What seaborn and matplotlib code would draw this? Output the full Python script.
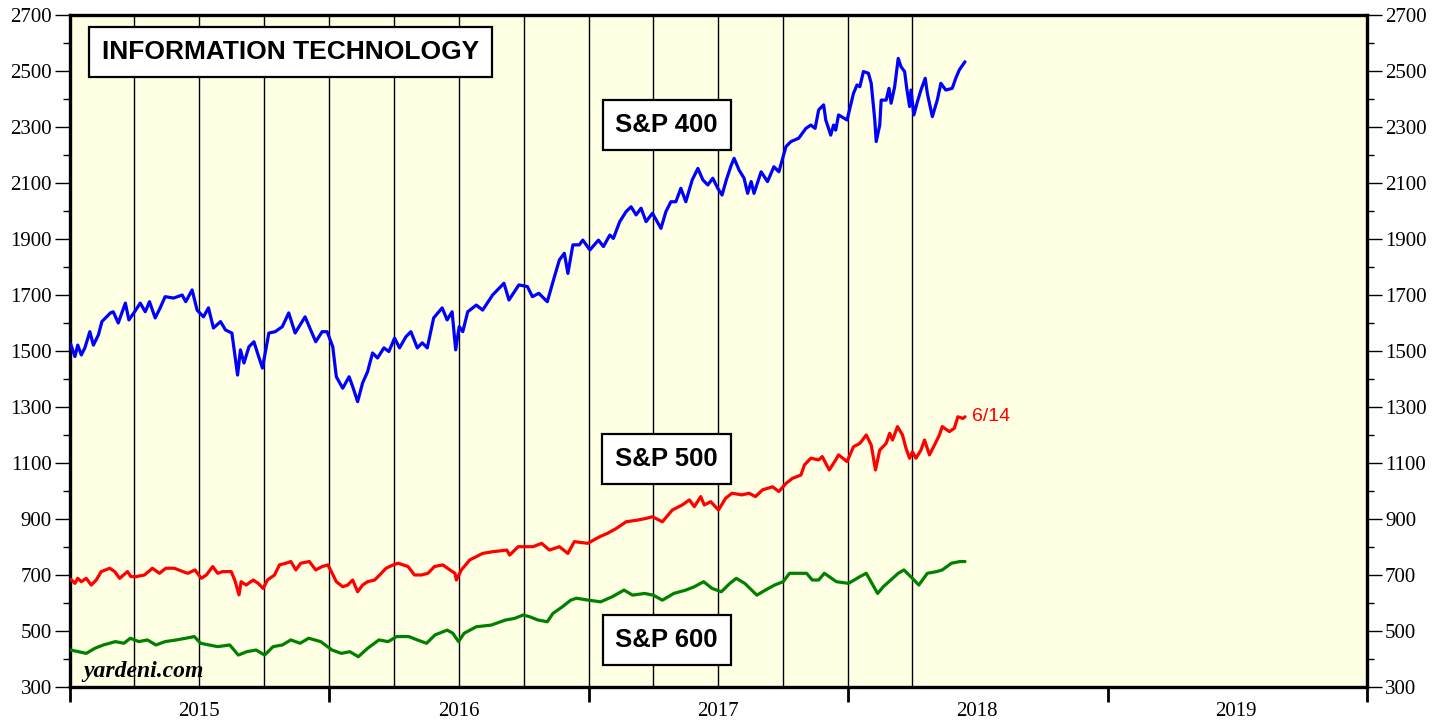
import pandas as pd
import matplotlib
matplotlib.use("Agg")
import matplotlib.pyplot as plt
import matplotlib.dates as mdates
import matplotlib.ticker as mticker
import seaborn as sns

# ---- data (weekly-ish samples) ----
sp400_dates = [
    "2015-01-02", "2015-01-08", "2015-01-12", "2015-01-17", "2015-01-22", "2015-01-29", "2015-02-03",
    "2015-02-10", "2015-02-15", "2015-02-27", "2015-03-03", "2015-03-10", "2015-03-20", "2015-03-25",
    "2015-04-01", "2015-04-10", "2015-04-17", "2015-04-23", "2015-05-01", "2015-05-08", "2015-05-15",
    "2015-05-27", "2015-06-08", "2015-06-13", "2015-06-22", "2015-06-29", "2015-07-08", "2015-07-15",
    "2015-07-22", "2015-08-01", "2015-08-08", "2015-08-17", "2015-08-25", "2015-08-29", "2015-09-03",
    "2015-09-10", "2015-09-17", "2015-09-22", "2015-09-29", "2015-10-08", "2015-10-17", "2015-10-27",
    "2015-11-05", "2015-11-14", "2015-11-28", "2015-12-13", "2015-12-22", "2015-12-29", "2016-01-06",
    "2016-01-11", "2016-01-20", "2016-01-29", "2016-02-03", "2016-02-10", "2016-02-17", "2016-02-24",
    "2016-03-02", "2016-03-09", "2016-03-18", "2016-03-25", "2016-04-02", "2016-04-09", "2016-04-18",
    "2016-04-25", "2016-05-04", "2016-05-11", "2016-05-18", "2016-05-27", "2016-06-08", "2016-06-15",
    "2016-06-22", "2016-06-27", "2016-07-02", "2016-07-07", "2016-07-14", "2016-07-26", "2016-08-04",
    "2016-08-18", "2016-09-03", "2016-09-10", "2016-09-24", "2016-10-06", "2016-10-13", "2016-10-22",
    "2016-11-03", "2016-11-13", "2016-11-20", "2016-11-27", "2016-12-02", "2016-12-09", "2016-12-18",
    "2016-12-23", "2017-01-02", "2017-01-14", "2017-01-21", "2017-01-30", "2017-02-04", "2017-02-13",
    "2017-02-22", "2017-03-01", "2017-03-08", "2017-03-15", "2017-03-22", "2017-03-31", "2017-04-12",
    "2017-04-19", "2017-04-26", "2017-05-03", "2017-05-10", "2017-05-17", "2017-05-26", "2017-06-03",
    "2017-06-10", "2017-06-17", "2017-06-24", "2017-07-01", "2017-07-07", "2017-07-13", "2017-07-20",
    "2017-07-24", "2017-07-31", "2017-08-07", "2017-08-12", "2017-08-17", "2017-08-21", "2017-08-31",
    "2017-09-09", "2017-09-18", "2017-09-25", "2017-10-05", "2017-10-12", "2017-10-23", "2017-11-02",
    "2017-11-09", "2017-11-15", "2017-11-20", "2017-11-27", "2017-11-30", "2017-12-07", "2017-12-11",
    "2017-12-14", "2017-12-18", "2017-12-30", "2018-01-08", "2018-01-13", "2018-01-17", "2018-01-22",
    "2018-01-29", "2018-02-02", "2018-02-07", "2018-02-09", "2018-02-14", "2018-02-16", "2018-02-23",
    "2018-02-27", "2018-03-02", "2018-03-07", "2018-03-12", "2018-03-16", "2018-03-21", "2018-03-24",
    "2018-03-28", "2018-03-30", "2018-04-03", "2018-04-08", "2018-04-13", "2018-04-19", "2018-04-22",
    "2018-04-29", "2018-05-06", "2018-05-11", "2018-05-18", "2018-05-27", "2018-06-01", "2018-06-06",
    "2018-06-14",
]
sp400_vals = [
    1525, 1480, 1521, 1486, 1511, 1569, 1521,
    1557, 1605, 1636, 1640, 1600, 1671, 1611,
    1636, 1671, 1640, 1676, 1618, 1654, 1694,
    1689, 1700, 1676, 1718, 1646, 1622, 1654,
    1582, 1605, 1575, 1564, 1414, 1504, 1457,
    1515, 1533, 1493, 1439, 1564, 1569, 1587,
    1636, 1564, 1622, 1533, 1569, 1569, 1515,
    1408, 1367, 1408, 1373, 1319, 1386, 1426,
    1493, 1475, 1511, 1498, 1546, 1511, 1551,
    1569, 1511, 1529, 1511, 1618, 1654, 1611,
    1640, 1504, 1587, 1569, 1640, 1664, 1646,
    1700, 1742, 1682, 1736, 1730, 1694, 1706,
    1676, 1765, 1825, 1849, 1777, 1879, 1879,
    1896, 1861, 1896, 1873, 1914, 1902, 1962,
    1998, 2015, 1986, 2010, 1962, 1992, 1938,
    1998, 2033, 2033, 2081, 2033, 2111, 2152,
    2111, 2093, 2117, 2081, 2057, 2111, 2164,
    2188, 2146, 2117, 2063, 2105, 2063, 2140,
    2105, 2158, 2140, 2230, 2248, 2260, 2295,
    2307, 2295, 2361, 2379, 2325, 2271, 2307,
    2289, 2343, 2325, 2420, 2450, 2444, 2498,
    2492, 2456, 2325, 2248, 2307, 2396, 2396,
    2438, 2385, 2444, 2545, 2515, 2498, 2438,
    2373, 2432, 2343, 2390, 2432, 2474, 2420,
    2337, 2396, 2456, 2432, 2438, 2474, 2504,
    2533,
]

sp500_dates = [
    "2015-01-02", "2015-01-08", "2015-01-12", "2015-01-17", "2015-01-24", "2015-01-31", "2015-02-07",
    "2015-02-14", "2015-02-26", "2015-03-05", "2015-03-12", "2015-03-23", "2015-03-28", "2015-04-04",
    "2015-04-16", "2015-04-27", "2015-05-07", "2015-05-16", "2015-05-28", "2015-06-09", "2015-06-16",
    "2015-06-26", "2015-07-05", "2015-07-12", "2015-07-21", "2015-07-28", "2015-08-04", "2015-08-16",
    "2015-08-21", "2015-08-27", "2015-08-30", "2015-09-06", "2015-09-16", "2015-09-23", "2015-09-30",
    "2015-10-06", "2015-10-16", "2015-10-23", "2015-11-01", "2015-11-08", "2015-11-15", "2015-11-22",
    "2015-12-04", "2015-12-13", "2015-12-22", "2015-12-30", "2016-01-04", "2016-01-11", "2016-01-20",
    "2016-01-27", "2016-02-03", "2016-02-10", "2016-02-17", "2016-02-24", "2016-03-05", "2016-03-12",
    "2016-03-21", "2016-03-31", "2016-04-07", "2016-04-14", "2016-04-21", "2016-04-30", "2016-05-10",
    "2016-05-19", "2016-05-28", "2016-06-09", "2016-06-19", "2016-06-26", "2016-06-28", "2016-07-05",
    "2016-07-17", "2016-08-04", "2016-08-18", "2016-09-07", "2016-09-11", "2016-09-23", "2016-10-14",
    "2016-10-26", "2016-11-06", "2016-11-20", "2016-12-02", "2016-12-11", "2016-12-30", "2017-01-16",
    "2017-01-27", "2017-02-08", "2017-02-22", "2017-03-10", "2017-03-22", "2017-03-31", "2017-04-14",
    "2017-04-28", "2017-05-12", "2017-05-22", "2017-05-29", "2017-06-07", "2017-06-12", "2017-06-21",
    "2017-07-02", "2017-07-12", "2017-07-21", "2017-08-04", "2017-08-14", "2017-08-23", "2017-09-02",
    "2017-09-16", "2017-09-25", "2017-10-05", "2017-10-14", "2017-10-26", "2017-10-31", "2017-11-09",
    "2017-11-20", "2017-11-25", "2017-12-05", "2017-12-14", "2017-12-18", "2017-12-30", "2018-01-08",
    "2018-01-17", "2018-01-26", "2018-02-02", "2018-02-08", "2018-02-14", "2018-02-23", "2018-02-28",
    "2018-03-04", "2018-03-11", "2018-03-18", "2018-03-23", "2018-03-28", "2018-04-01", "2018-04-06",
    "2018-04-13", "2018-04-18", "2018-04-25", "2018-05-02", "2018-05-09", "2018-05-13", "2018-05-23",
    "2018-05-30", "2018-06-04", "2018-06-11", "2018-06-14",
]
sp500_vals = [
    685, 670, 688, 676, 688, 664, 682,
    712, 724, 712, 688, 712, 694, 694,
    700, 724, 706, 724, 724, 712, 706,
    718, 688, 700, 730, 706, 712, 712,
    682, 629, 676, 664, 682, 670, 652,
    682, 700, 736, 742, 748, 718, 742,
    748, 718, 730, 736, 712, 676, 658,
    664, 682, 640, 664, 676, 682, 700,
    724, 736, 742, 736, 730, 700, 700,
    706, 730, 736, 718, 706, 682, 718,
    754, 777, 783, 789, 771, 801, 801,
    813, 789, 801, 777, 819, 813, 837,
    849, 866, 890, 896, 902, 908, 890,
    932, 950, 968, 944, 980, 950, 962,
    932, 974, 992, 986, 992, 980, 1004,
    1015, 998, 1027, 1045, 1057, 1093, 1117,
    1111, 1123, 1075, 1111, 1129, 1105, 1158,
    1170, 1200, 1164, 1075, 1146, 1170, 1206,
    1182, 1230, 1200, 1152, 1117, 1140, 1117,
    1146, 1182, 1129, 1164, 1200, 1230, 1212,
    1224, 1265, 1259, 1265,
]

sp600_dates = [
    "2015-01-02", "2015-01-24", "2015-02-05", "2015-02-17", "2015-03-06", "2015-03-18", "2015-03-27",
    "2015-04-08", "2015-04-20", "2015-05-02", "2015-05-15", "2015-05-31", "2015-06-13", "2015-06-25",
    "2015-07-04", "2015-07-16", "2015-07-28", "2015-08-14", "2015-08-26", "2015-09-07", "2015-09-20",
    "2015-10-02", "2015-10-14", "2015-10-27", "2015-11-08", "2015-11-21", "2015-12-03", "2015-12-20",
    "2016-01-05", "2016-01-18", "2016-01-30", "2016-02-11", "2016-02-24", "2016-03-11", "2016-03-24",
    "2016-04-05", "2016-04-22", "2016-05-04", "2016-05-17", "2016-05-29", "2016-06-15", "2016-06-23",
    "2016-07-01", "2016-07-09", "2016-07-26", "2016-08-16", "2016-09-05", "2016-09-18", "2016-09-30",
    "2016-10-09", "2016-10-21", "2016-11-03", "2016-11-11", "2016-11-24", "2016-12-06", "2016-12-14",
    "2016-12-31", "2017-01-17", "2017-02-03", "2017-02-19", "2017-03-03", "2017-03-20", "2017-04-01",
    "2017-04-14", "2017-04-30", "2017-05-17", "2017-05-29", "2017-06-11", "2017-06-23", "2017-07-06",
    "2017-07-18", "2017-07-27", "2017-08-08", "2017-08-25", "2017-09-06", "2017-09-19", "2017-10-01",
    "2017-10-10", "2017-10-26", "2017-11-03", "2017-11-11", "2017-11-20", "2017-11-28", "2017-12-15",
    "2018-01-01", "2018-01-17", "2018-01-26", "2018-02-11", "2018-02-19", "2018-03-12", "2018-03-20",
    "2018-04-01", "2018-04-10", "2018-04-22", "2018-05-05", "2018-05-13", "2018-05-26", "2018-06-07",
    "2018-06-14",
]
sp600_vals = [
    432, 420, 438, 450, 462, 456, 474,
    462, 468, 450, 462, 468, 474, 480,
    456, 450, 444, 450, 414, 426, 432,
    414, 444, 450, 468, 456, 474, 462,
    432, 420, 426, 408, 438, 468, 462,
    480, 480, 468, 456, 486, 503, 492,
    462, 492, 515, 521, 539, 545, 557,
    551, 539, 533, 563, 586, 610, 617,
    610, 604, 623, 646, 628, 634, 628,
    610, 634, 646, 658, 676, 652, 640,
    670, 688, 670, 628, 646, 664, 676,
    706, 706, 706, 682, 682, 706, 676,
    670, 694, 706, 634, 658, 706, 718,
    688, 664, 706, 712, 718, 742, 748,
    748,
]

series_names = ["S&P 400", "S&P 500", "S&P 600"]
series_colors = ["#0000FF", "#FF0000", "#008000"]
last_label = "6/14"

frames = []
for name, d, v in zip(series_names,
                      [sp400_dates, sp500_dates, sp600_dates],
                      [sp400_vals, sp500_vals, sp600_vals]):
    frames.append(pd.DataFrame({"date": pd.to_datetime(d), "value": v, "series": name}))
df = pd.concat(frames, ignore_index=True)

sns.set_style("ticks", {"text.color": "black", "xtick.color": "black", "ytick.color": "black",
                        "axes.edgecolor": "black"})
plt.rcParams["font.family"] = ["Liberation Serif", "DejaVu Serif"]

fig = plt.figure(figsize=(14.48, 7.21), dpi=100)
ax = fig.add_axes([0.0483, 0.0472, 0.8958, 0.932])
ax.set_facecolor("#FFFFE3")

# quarterly vertical lines, only up to the last data point
for q in pd.date_range("2015-04-01", df["date"].max(), freq="QS"):
    ax.axvline(q, color="black", lw=1.0, zorder=1)

sns.lineplot(data=df, x="date", y="value", hue="series",
             palette=dict(zip(series_names, series_colors)),
             estimator=None, linewidth=2.3, legend=False, ax=ax, zorder=3)

ax.set_xlim(pd.Timestamp("2015-01-01"), pd.Timestamp("2020-01-01"))
ax.set_ylim(300, 2700)
ax.set_xlabel("")
ax.set_ylabel("")

# y axis on both sides
ax.set_yticks(range(300, 2701, 200))
ax.yaxis.set_minor_locator(mticker.FixedLocator(range(400, 2700, 200)))
ax.tick_params(axis="y", which="major", direction="out", length=11, width=1,
               labelsize=15, left=True, right=True, labelleft=True, labelright=True, pad=2)
ax.tick_params(axis="y", which="minor", direction="out", length=5, width=1,
               left=True, right=True)

# x axis: long ticks at year boundaries, year labels mid-year
ax.xaxis.set_major_locator(mdates.YearLocator())
ax.xaxis.set_major_formatter(mticker.NullFormatter())
ax.xaxis.set_minor_locator(mdates.MonthLocator(bymonth=7, bymonthday=1))
ax.xaxis.set_minor_formatter(mdates.DateFormatter("%Y"))
ax.tick_params(axis="x", which="major", direction="out", length=11, width=2)
ax.tick_params(axis="x", which="minor", length=0, labelsize=15, pad=11)

for s in ax.spines.values():
    s.set_visible(True)
    s.set_linewidth(2.4)
    s.set_color("black")

box = dict(boxstyle="square,pad=0.5", facecolor="white", edgecolor="black", linewidth=1.6)
sans = ["Liberation Sans", "DejaVu Sans"]
ax.text(0.170, 0.945, "INFORMATION TECHNOLOGY", transform=ax.transAxes, ha="center", va="center",
        fontsize=19, fontweight="bold", family=sans, color="black", bbox=box, zorder=5)
label_y = [0.836, 0.339, 0.070]
for name, yy in zip(series_names, label_y):
    ax.text(0.460, yy, name, transform=ax.transAxes, ha="center", va="center",
            fontsize=18.5, fontweight="bold", family=sans, color="black", bbox=box, zorder=5)

last = frames[1].iloc[-1]
ax.annotate(last_label, (last["date"], last["value"]), xytext=(5, 0), textcoords="offset points",
            ha="left", va="center", color="#FF0000", fontsize=14, family=sans)

ax.text(0.010, 0.008, "yardeni.com", transform=ax.transAxes, ha="left", va="bottom",
        fontsize=17, fontweight="bold", fontstyle="italic", color="black", zorder=5)

fig.savefig("out.png", dpi=100, facecolor="white")
